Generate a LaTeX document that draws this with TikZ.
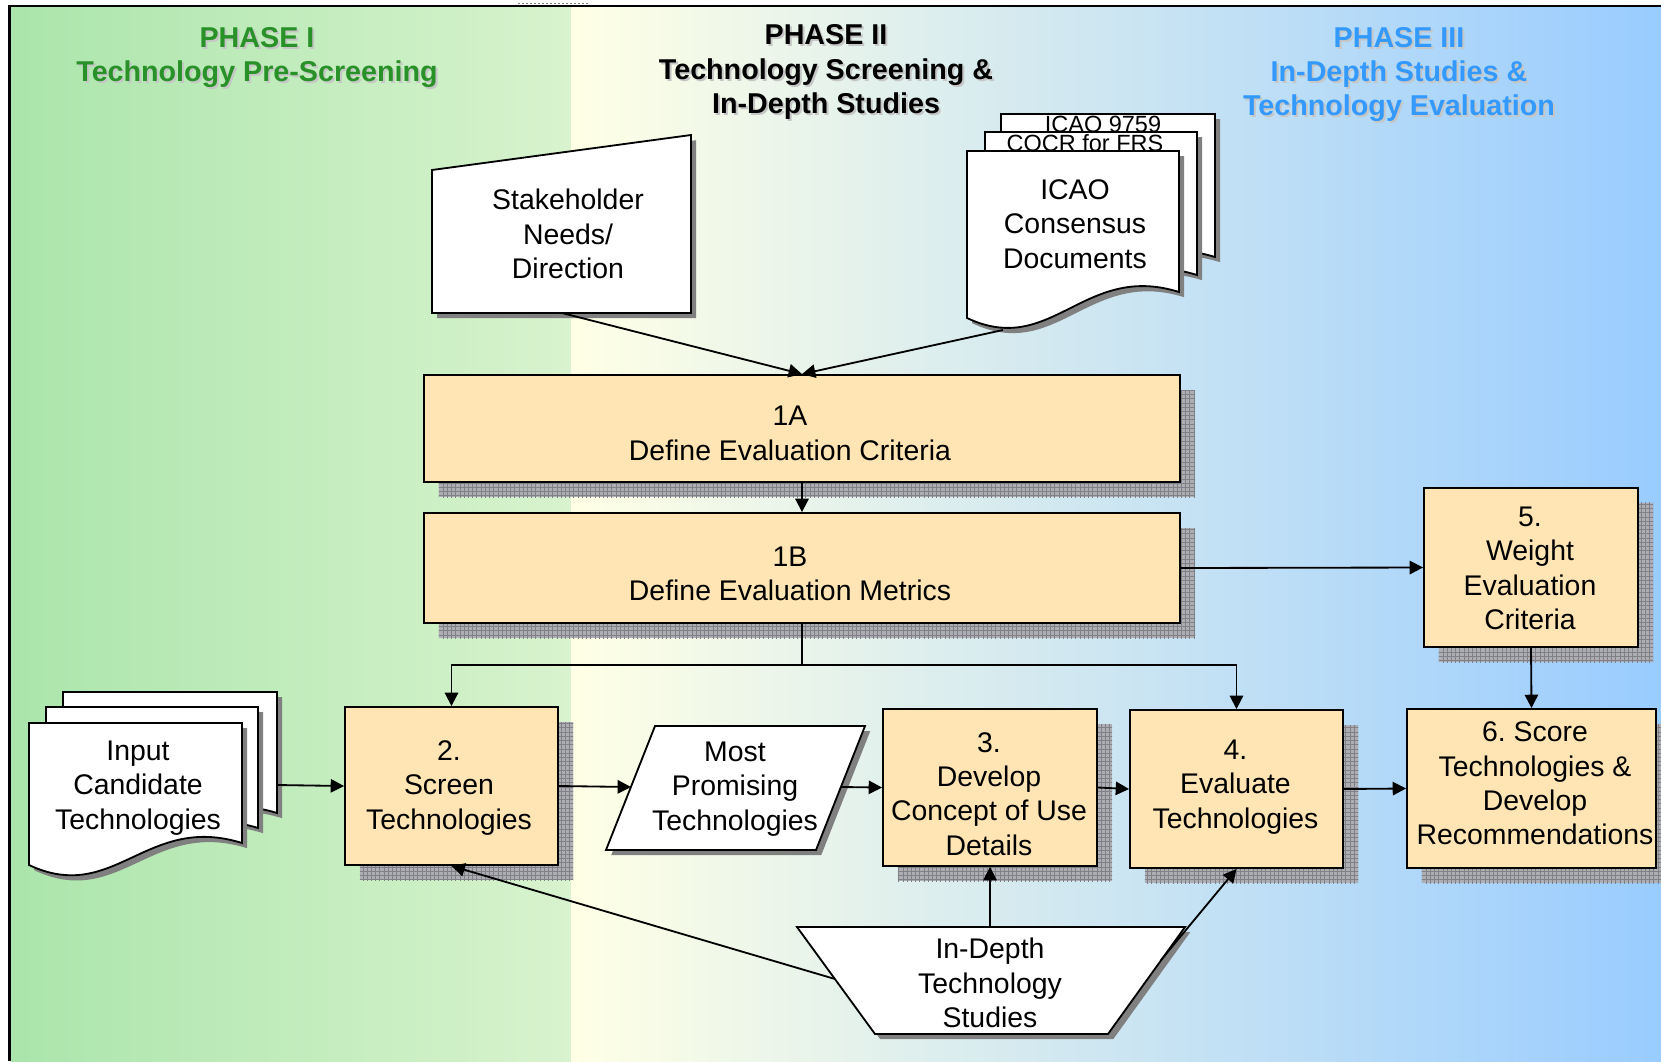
\documentclass[tikz,border=0pt]{standalone}
\usepackage{fontspec}
\setmainfont{Liberation Sans}
\usetikzlibrary{arrows.meta,shadows,patterns}

\definecolor{boxfill}{RGB}{255,229,180}
\definecolor{greenL}{RGB}{171,229,171}
\definecolor{greenR}{RGB}{216,243,206}
\definecolor{paleyellow}{RGB}{255,255,229}
\definecolor{skyblue}{RGB}{153,204,255}
\definecolor{phaseone}{RGB}{40,145,40}
\definecolor{phasethree}{RGB}{51,153,255}
\definecolor{shadefill}{RGB}{172,174,180}
\definecolor{shadeline}{RGB}{128,128,134}

\newcommand{\bodyfont}{\fontsize{20.2}{24.4}\selectfont}
\newcommand{\smallfont}{\fontsize{16.7}{20}\selectfont}
\newcommand{\titlefont}{\fontsize{20.4}{24.5}\selectfont\bfseries}

\tikzset{
	gridshadow/.style={
		drop shadow={shadow xshift=0.375cm, shadow yshift=-0.375cm, opacity=1, fill=shadefill},
		drop shadow={shadow xshift=0.375cm, shadow yshift=-0.375cm, opacity=1, pattern=grid, pattern color=shadeline}},
	box/.style={draw, line width=1.3pt, fill=boxfill, inner sep=0pt, gridshadow},
	docpage/.style={draw, line width=1.3pt, fill=white,
		drop shadow={shadow xshift=0.13cm, shadow yshift=-0.13cm, opacity=1, fill=black!50}},
	txt/.style={align=center, font=\bodyfont, inner sep=0pt},
	phasetitle/.style={align=center, font=\titlefont, inner sep=0pt},
	titleshade/.style={phasetitle, text=gray!45, xshift=0.05cm, yshift=-0.05cm},
	arr/.style={line width=1.3pt, -{Triangle[length=9.5pt,width=9.5pt]}}
}

% page with wavy bottom: left x, top y, right x, left bottom y, right bottom y
\newcommand{\docpage}[5]{%
	\draw[docpage] (#1,#4) -- (#1,#2) -- (#3,#2) -- (#3,#5)
		.. controls ({#1+0.55*(#3-#1)},{#5-30}) and ({#1+0.4*(#3-#1)},{#4+40}) .. (#1,#4) -- cycle;}

\begin{document}
\begin{tikzpicture}[x=0.025cm, y=-0.025cm]
	\useasboundingbox (0,0) rectangle (1661,1061);

	% Panels
	\shade[left color=greenL, right color=greenR] (11,7) rectangle (571,1061);
	\shade[left color=paleyellow, right color=skyblue] (571,7) rectangle (1661,1061);
	\draw[line width=0.06cm] (9.5,1061) -- (9.5,6) -- (1661,6);
	\draw[gray, line width=0.04cm, dash pattern=on 0.05cm off 0.05cm] (518,3.5) -- (590,3.5);

	% Titles
	\node[titleshade] (p1s) at (257,57.5) {PHASE I\\Technology Pre-Screening};
	\node[phasetitle, text=phaseone] (phase1) at (257,57.5) {PHASE I\\Technology Pre-Screening};
	\node[titleshade] (p2s) at (826,72) {PHASE II\\Technology Screening \&\\In-Depth Studies};
	\node[phasetitle] (phase2) at (826,72) {PHASE II\\Technology Screening \&\\In-Depth Studies};
	\node[titleshade] (p3s) at (1399,74.5) {PHASE III\\In-Depth Studies \&\\Technology Evaluation};
	\node[phasetitle, text=phasethree] (phase3) at (1399,74.5) {PHASE III\\In-Depth Studies \&\\Technology Evaluation};

	% Inputs
	\draw[docpage] (432,313) -- (432,170) -- (691,135) -- (691,313) -- cycle;
	\node[txt] (stake) at (568,234) {Stakeholder\\Needs/\\Direction};
	\coordinate (stake-out) at (562,313);

	\docpage{1001}{114}{1215}{283}{257}
	\node[font=\smallfont, inner sep=0pt, anchor=base] (icao9759) at (1103,132.5) {ICAO 9759};
	\docpage{985}{132}{1197}{301}{275}
	\node[font=\smallfont, inner sep=0pt, anchor=base] (cocr) at (1085,151.5) {COCR for FRS};
	\docpage{967}{151}{1179}{318}{292}
	\node[txt] (icaodocs) at (1075,224) {ICAO\\Consensus\\Documents};
	\coordinate (icao-out) at (1003,330);

	\docpage{63}{692}{277}{835}{813}
	\docpage{46}{707}{258}{850}{828}
	\docpage{29}{723}{242}{865}{843}
	\node[txt] (inputs) at (138,788) {Input\\Candidate\\Technologies};
	\coordinate (inp-out) at (277,785);

	% Steps
	\node[box, minimum width=18.9cm, minimum height=2.675cm] (c1a) at (802,428.5) {};
	\node[txt] (c1a-text) at (790,433.5) {1A\\Define Evaluation Criteria};
	\node[box, minimum width=18.9cm, minimum height=2.75cm] (c1b) at (802,568) {};
	\node[txt] (c1b-text) at (790,574) {1B\\Define Evaluation Metrics};
	\node[box, minimum width=5.35cm, minimum height=3.975cm] (b5) at (1531,567.5) {};
	\node[txt] (b5-text) at (1530,568.5) {5.\\Weight\\Evaluation\\Criteria};
	\node[box, minimum width=5.325cm, minimum height=3.95cm] (b2) at (451.5,786) {};
	\node[txt] (b2-text) at (449,788) {2.\\Screen\\Technologies};
	\node[box, minimum width=5.35cm, minimum height=3.925cm] (b3) at (990,787.5) {};
	\node[txt] (b3-text) at (989,794) {3.\\Develop\\Concept of Use\\Details};
	\node[box, minimum width=5.325cm, minimum height=3.95cm] (b4) at (1236.5,789) {};
	\node[txt] (b4-text) at (1235.5,787) {4.\\Evaluate\\Technologies};
	\node[box, minimum width=6.225cm, minimum height=3.975cm] (b6) at (1531.5,788.5) {};
	\node[txt] (b6-text) at (1535,783.5) {6.\ Score\\Technologies \&\\Develop\\Recommendations};
	\coordinate (split) at (802,665);

	% Outputs
	\draw[docpage] (655,726) -- (865,726) -- (816,850) -- (606,850) -- cycle;
	\node[txt] (mpt) at (735,789) {Most\\Promising\\Technologies};
	\coordinate (mpt-in) at (631,787);
	\coordinate (mpt-out) at (841,787);

	\draw[docpage] (797,927) -- (1185,927) -- (1108,1034) -- (875,1034) -- cycle;
	\node[txt] (ids) at (990,983) {In-Depth\\Technology\\Studies};
	\coordinate (ids-top) at (990,927);
	\coordinate (ids-left) at (835,979);
	\coordinate (ids-right) at (1161,960);

	% Arrows
	\draw[arr] (stake-out) -- (c1a.north);
	\draw[arr] (icao-out) -- (c1a.north);
	\draw[arr] (c1a.south) -- (c1b.north);
	\draw[arr] (c1b.east) -- (b5.west);
	\draw[arr] (c1b.south) -- (split) -| (b2.north);
	\draw[arr] (split) -| (b4.north);
	\draw[arr] (inp-out) -- (b2.west);
	\draw[arr] (b2.east) -- (mpt-in);
	\draw[arr] (mpt-out) -- (b3.west);
	\draw[arr] (b3.east) -- (b4.west);
	\draw[arr] (b4.east) -- (b6.west);
	\draw[arr] (b5.south) -- (b6.north);
	\draw[arr] (ids-top) -- (b3.south);
	\draw[arr] (ids-left) -- (b2.south);
	\draw[arr] (ids-right) -- (b4.south);
\end{tikzpicture}
\end{document}
